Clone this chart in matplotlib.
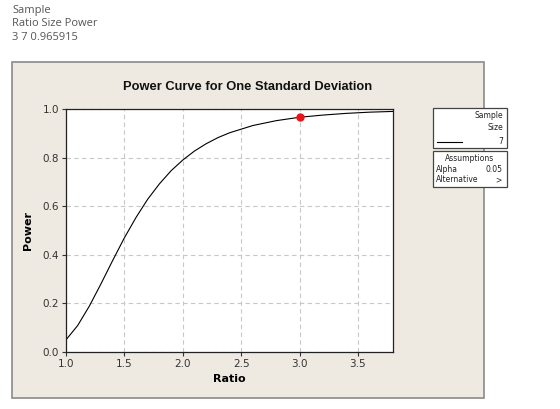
import matplotlib
matplotlib.use("Agg")
import matplotlib.pyplot as plt
from matplotlib.patches import Rectangle
from matplotlib.lines import Line2D

# power curve (ratio vs power), sample size 7, alpha 0.05
ratio = [1.0, 1.1, 1.2, 1.3, 1.4, 1.5, 1.6, 1.7, 1.8, 1.9, 2.0, 2.1, 2.2, 2.3,
         2.4, 2.6, 2.8, 3.0, 3.2, 3.4, 3.6, 3.8]
power = [0.050, 0.109, 0.189, 0.281, 0.377, 0.470, 0.554, 0.629, 0.692, 0.746,
         0.790, 0.827, 0.857, 0.882, 0.902, 0.932, 0.952, 0.966, 0.975, 0.982,
         0.987, 0.990]
point_ratio = 3.0
point_power = 0.965915
sample_size = 7
alpha = 0.05
x_ticks = [1.0, 1.5, 2.0, 2.5, 3.0, 3.5]
y_ticks = [0.0, 0.2, 0.4, 0.6, 0.8, 1.0]

W, H = 560, 409
fig = plt.figure(figsize=(W / 100, H / 100), dpi=100)
fig.patch.set_facecolor("white")


def fx(x):
    return x / W


def fy(y):
    return 1 - y / H


# header text
hdr = dict(fontsize=8, color="#555555", family="Open Sans", va="center", ha="left")
fig.text(fx(12), fy(10), "Sample", **hdr)
fig.text(fx(12), fy(24), "Ratio Size Power", **hdr)
fig.text(fx(12), fy(38), "3 7 0.965915", **hdr)

# graph panel
fig.patches.append(Rectangle((fx(12), fy(398)), (484 - 12) / W, (398 - 62) / H,
                             transform=fig.transFigure, facecolor="#EEEAE1",
                             edgecolor="#8a8a8a", lw=1.2, zorder=0))

ax = fig.add_axes([fx(66), fy(352), (393 - 66) / W, (352 - 109) / H])
ax.set_zorder(3)
ax.set_facecolor("white")
ax.plot(ratio, power, color="black", lw=0.8)
ax.plot([point_ratio], [point_power], "o", color="#e8151b", ms=5, zorder=5)

ax.set_xlim(1.0, 3.8)
ax.set_ylim(0.0, 1.0)
ax.set_xticks(x_ticks)
ax.set_yticks(y_ticks)
ax.set_xticklabels([f"{t:.1f}" for t in x_ticks])
ax.set_yticklabels([f"{t:.1f}" for t in y_ticks])
ax.grid(True, ls=(0, (4, 3)), color="#c8c8c8", lw=0.8)
ax.tick_params(direction="out", length=3, pad=2, labelsize=7.5,
               colors="#333333", labelcolor="#333333")
for s in ax.spines.values():
    s.set_color("#222222")
    s.set_linewidth(0.9)

ax.set_xlabel("Ratio", fontsize=8, fontweight="bold", labelpad=4)
ax.set_ylabel("Power", fontsize=8, fontweight="bold", labelpad=7)
fig.text(fx(248), fy(87), "Power Curve for One Standard Deviation",
         fontsize=9.3, fontweight="bold", ha="center", va="center",
         family="Liberation Sans", color="#111111", zorder=4)

# legend boxes
def box(x0, y0, x1, y1):
    fig.patches.append(Rectangle((fx(x0), fy(y1)), (x1 - x0) / W, (y1 - y0) / H,
                                 transform=fig.transFigure, facecolor="white",
                                 edgecolor="#444444", lw=0.9, zorder=1))


small = dict(fontsize=5.5, color="#222222", va="center", zorder=4)
box(433, 108, 507, 148)
fig.text(fx(503), fy(116), "Sample", ha="right", **small)
fig.text(fx(503), fy(128), "Size", ha="right", **small)
fig.text(fx(503), fy(141), str(sample_size), ha="right", **small)
fig.lines.append(Line2D([fx(437), fx(462)], [fy(142), fy(142)],
                        transform=fig.transFigure, color="black", lw=0.8,
                        zorder=4))

box(433, 151, 507, 187)
fig.text(fx(470), fy(159), "Assumptions", ha="center", **small)
fig.text(fx(436), fy(170), "Alpha", ha="left", **small)
fig.text(fx(503), fy(170), f"{alpha:.2f}", ha="right", **small)
fig.text(fx(436), fy(180), "Alternative", ha="left", **small)
fig.text(fx(501), fy(180), ">", ha="right", **small)

fig.savefig("out.png", dpi=100)
